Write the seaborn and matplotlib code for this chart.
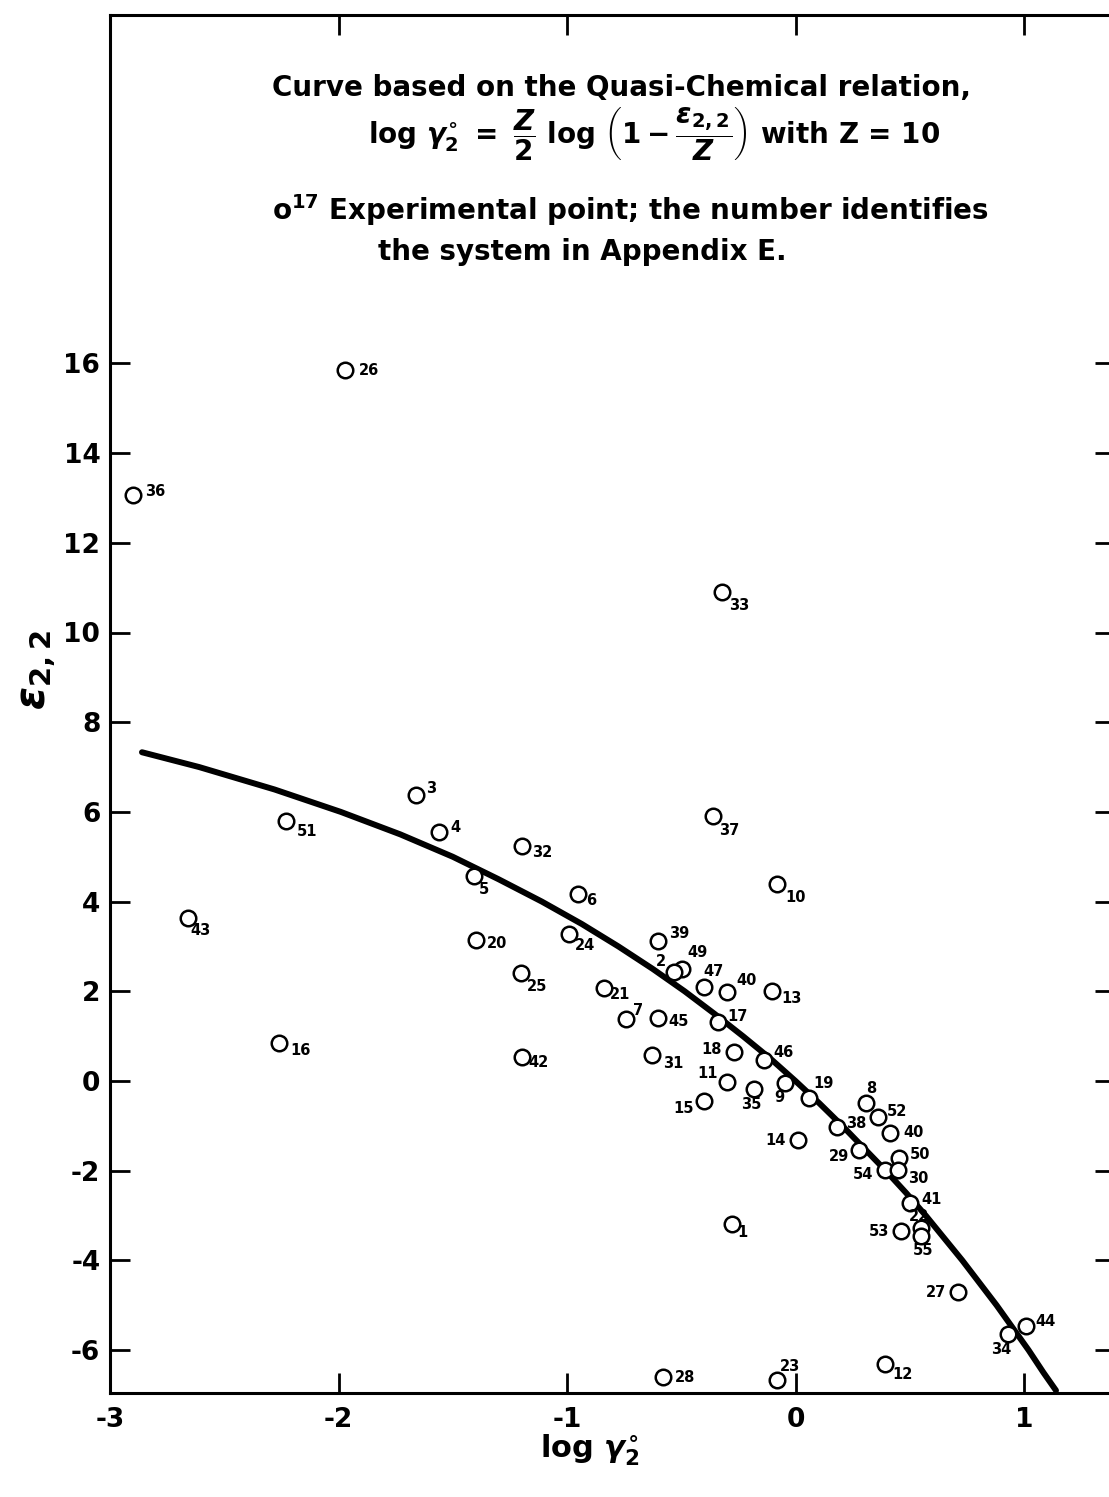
import matplotlib
matplotlib.use("Agg")
import matplotlib.pyplot as plt
import seaborn as sns
import pandas as pd

# ---------------- data ----------------
system_ids = ['26', '36', '33', '37', '3', '4', '51', '32', '5', '43', '20', '25',
              '16', '42', '6', '24', '10', '39', '49', '2', '47', '40', '13', '21',
              '7', '45', '17', '31', '18', '46', '11', '35', '9', '19', '15', '8',
              '52', '38', '14', '40', '29', '50', '54', '30', '41', '22', '53', '55',
              '27', '44', '34', '1', '28', '23', '12']
log_gamma = [-1.97, -2.90, -0.32, -0.36, -1.66, -1.56, -2.23, -1.195, -1.405, -2.66,
             -1.40, -1.20, -2.26, -1.195, -0.95, -0.99, -0.08, -0.60, -0.495, -0.53,
             -0.40, -0.30, -0.105, -0.84, -0.74, -0.60, -0.34, -0.63, -0.27, -0.14,
             -0.30, -0.18, -0.045, 0.06, -0.40, 0.31, 0.36, 0.18, 0.01, 0.415,
             0.28, 0.455, 0.39, 0.45, 0.50, 0.55, 0.46, 0.55, 0.71, 1.01,
             0.93, -0.28, -0.58, -0.08, 0.39]
eps22 = [15.85, 13.07, 10.90, 5.91, 6.38, 5.55, 5.80, 5.24, 4.57, 3.63,
         3.14, 2.41, 0.85, 0.54, 4.17, 3.28, 4.39, 3.12, 2.50, 2.43,
         2.10, 1.99, 2.01, 2.07, 1.38, 1.40, 1.32, 0.58, 0.65, 0.47,
         -0.02, -0.18, -0.04, -0.38, -0.44, -0.50, -0.81, -1.02, -1.31, -1.15,
         -1.54, -1.71, -1.98, -1.98, -2.72, -3.28, -3.34, -3.45, -4.70, -5.46,
         -5.64, -3.19, -6.60, -6.67, -6.31]

curve_log_gamma = [-2.86, -2.61, -2.28, -1.99, -1.73, -1.50, -1.30, -1.11, -0.935,
                   -0.775, -0.625, -0.485, -0.355, -0.23, -0.11, 0.0, 0.105, 0.205,
                   0.30, 0.395, 0.485, 0.57, 0.65, 0.73, 0.805, 0.88, 0.95, 1.02,
                   1.085, 1.14]
curve_eps = [7.33, 7.0, 6.5, 6.0, 5.5, 5.0, 4.5, 4.0, 3.5, 3.0, 2.5, 2.0, 1.5, 1.0,
             0.5, 0.0, -0.5, -1.0, -1.5, -2.0, -2.5, -3.0, -3.5, -4.0, -4.5, -5.0,
             -5.5, -6.0, -6.5, -6.9]

x_ticks = [-3, -2, -1, 0, 1]
x_tick_labels = ['-3', '-2', '-1', '0', '1']
y_ticks = [-6, -4, -2, 0, 2, 4, 6, 8, 10, 12, 14, 16]
y_tick_labels = ['-6', '-4', '-2', '0', '2', '4', '6', '8', '10', '12', '14', '16']

note_line1 = 'Curve based on the Quasi-Chemical relation,'
note_line2 = (r'$\mathrm{log}\ \gamma_2^{\circ}\ =\ \dfrac{Z}{2}\ \mathrm{log}\ '
              r'\left(1-\dfrac{\epsilon_{2,2}}{Z}\right)$ with Z = 10')
note_line3 = r'o$^{17}$ Experimental point; the number identifies'
note_line4 = 'the system in Appendix E.'
x_label = r'log $\gamma_2^{\circ}$'
y_label = r'$\epsilon_{2,2}$'

# ---------------- label placement (pixels from point centre) ----------------
label_offsets = [
    (14, 0, 'left'), (12, 3, 'left'), (7, -13, 'left'), (6, -15, 'left'),
    (10, 6, 'left'), (11, 5, 'left'), (11, -11, 'left'), (10, -7, 'left'),
    (4, -13, 'left'), (3, -12, 'left'), (11, -3, 'left'), (6, -14, 'left'),
    (11, -8, 'left'), (6, -6, 'left'), (8, -7, 'left'), (6, -12, 'left'),
    (8, -13, 'left'), (11, 8, 'left'), (5, 16, 'left'), (-8, 11, 'right'),
    (-1, 15, 'left'), (9, 11, 'left'), (10, -8, 'left'), (6, -6, 'left'),
    (7, 9, 'left'), (10, -3, 'left'), (10, 5, 'left'), (12, -9, 'left'),
    (-12, 2, 'right'), (10, 7, 'left'), (-9, 8, 'right'), (-3, -15, 'center'),
    (-1, -15, 'right'), (4, 15, 'left'), (-10, -8, 'right'), (5, 15, 'center'),
    (9, 6, 'left'), (9, 3, 'left'), (-12, -1, 'right'), (13, 0, 'left'),
    (-10, -6, 'right'), (10, 3, 'left'), (-11, -5, 'right'), (10, -9, 'left'),
    (12, 3, 'left'), (-2, 12, 'center'), (-11, -1, 'right'), (2, -15, 'center'),
    (-12, -1, 'right'), (9, 4, 'left'), (-7, -16, 'center'), (6, -8, 'left'),
    (12, 0, 'left'), (3, 14, 'left'), (8, -10, 'left'),
]

# ---------------- styling ----------------
sns.set_style('white')
plt.rcParams['font.family'] = ['DejaVu Sans']
plt.rcParams['font.weight'] = 'bold'
plt.rcParams['text.color'] = 'black'
plt.rcParams['axes.labelcolor'] = 'black'
plt.rcParams['xtick.color'] = 'black'
plt.rcParams['ytick.color'] = 'black'
plt.rcParams['axes.unicode_minus'] = False
plt.rcParams['mathtext.fontset'] = 'custom'
plt.rcParams['mathtext.rm'] = 'DejaVu Sans:bold'
plt.rcParams['mathtext.it'] = 'DejaVu Sans:italic:bold'
plt.rcParams['mathtext.bf'] = 'DejaVu Sans:bold'
plt.rcParams['mathtext.sf'] = 'DejaVu Sans:bold'

fig = plt.figure(figsize=(11.09, 14.97), dpi=100)
ax = fig.add_axes([110 / 1109, (1497 - 1393) / 1497, 1005 / 1109, 1378 / 1497])

pts = pd.DataFrame({'log_gamma': log_gamma, 'eps': eps22, 'id': system_ids})
curve = pd.DataFrame({'log_gamma': curve_log_gamma, 'eps': curve_eps})

sns.lineplot(data=curve, x='log_gamma', y='eps', sort=False, color='black',
             linewidth=4.3, ax=ax, zorder=2)
sns.scatterplot(data=pts, x='log_gamma', y='eps', marker='o', s=125,
                color='white', edgecolor='black', linewidth=1.8, ax=ax, zorder=3)

for (xv, yv, t), (dx, dy, ha) in zip(zip(log_gamma, eps22, system_ids), label_offsets):
    ax.annotate(t, (xv, yv), xytext=(dx, dy), textcoords='offset pixels',
                ha=ha, va='center', fontsize=10.5, fontweight='bold',
                color='black', zorder=4)

ax.set_xlim(-3, -3 + 1005 / 228.5)
ax.set_ylim((1081 - 1393) / 44.85, (1081 - 15) / 44.85)
ax.set_xticks(x_ticks)
ax.set_xticklabels(x_tick_labels)
ax.set_yticks(y_ticks)
ax.set_yticklabels(y_tick_labels)
ax.tick_params(axis='both', which='major', direction='in', length=14.5, width=2.0,
               colors='black', labelsize=19)
ax.tick_params(axis='x', top=True, bottom=True, pad=10)
ax.tick_params(axis='y', left=True, right=True, pad=7)
for lab in ax.get_xticklabels() + ax.get_yticklabels():
    lab.set_fontweight('bold')
for sp in ax.spines.values():
    sp.set_linewidth(2.2)
    sp.set_color('black')

ax.set_xlabel(x_label, fontsize=22, fontweight='bold', color='black')
ax.set_ylabel(y_label, fontsize=30, fontweight='bold', color='black')
ax.xaxis.set_label_coords((590 - 110) / 1005, -(1433 - 1393) / 1378)
ax.yaxis.set_label_coords(-(110 - 58) / 1005, (1393 - 670) / 1378)

tx = dict(fontsize=20, fontweight='bold', va='center', ha='left', color='black')
fig.text(272 / 1109, 1 - 88 / 1497, note_line1, **tx)
fig.text(368 / 1109, 1 - 134 / 1497, note_line2, **tx)
fig.text(272 / 1109, 1 - 210 / 1497, note_line3, **tx)
fig.text(378 / 1109, 1 - 252 / 1497, note_line4, **tx)

fig.savefig('out.png', dpi=100)
